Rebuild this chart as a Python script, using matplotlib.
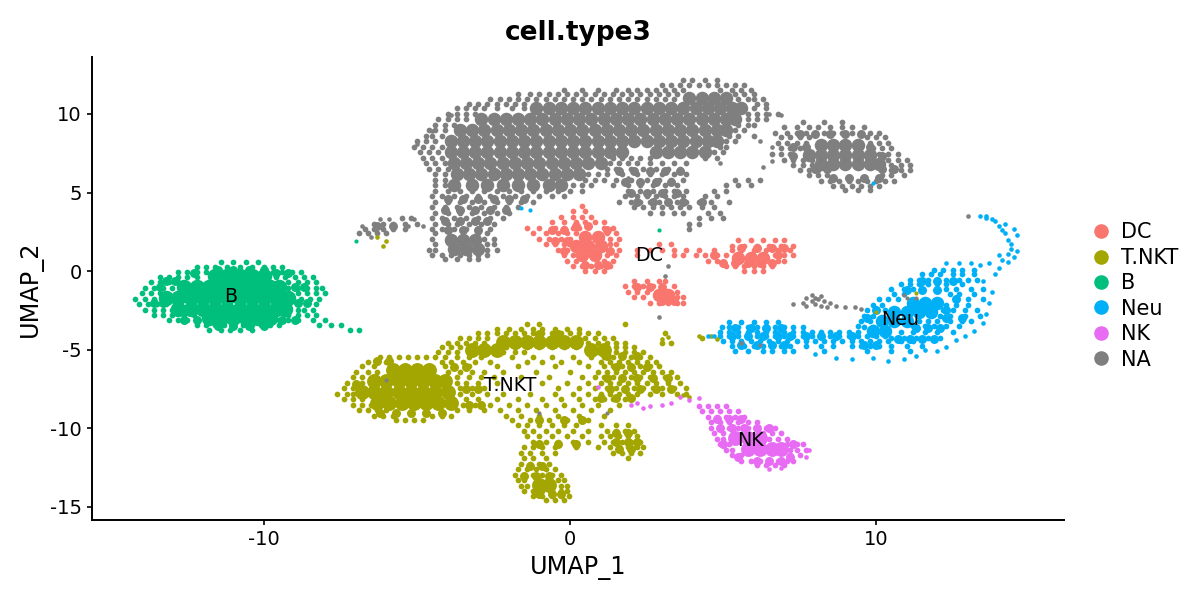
import matplotlib
matplotlib.use("Agg")
import matplotlib.pyplot as plt
from matplotlib.lines import Line2D

plt.rcParams["axes.unicode_minus"] = False

# Cell types and their ggplot-style hues
cell_types = ["DC", "T.NKT", "B", "Neu", "NK", "NA"]
hues = ["#F8766D", "#A3A500", "#00BF7D", "#00B0F6", "#E76BF3", "#7F7F7F"]
label_pos = [(2.6, 1.0), (-1.95, -7.3), (-11.1, -1.6), (10.8, -3.1), (5.9, -10.75)]
x_ticks = [-10, 0, 10]
y_ticks = [-15, -10, -5, 0, 5, 10]

# Densely populated parts of each cluster: UMAP_2 -> UMAP_1 values
na_core = {
    11.0: [3.9, 4.3, 4.7, 5.1],
    10.4: [-1.1, -0.7, -0.3, 0.1, 0.5, 0.9, 1.3, 1.7, 2.1, 2.5, 2.9, 3.3, 3.7, 4.1, 4.5, 4.9, 5.3, 5.6],
    9.7: [-2.9, -2.5, -2.1, -1.7, -1.3, -0.9, -0.5, -0.1, 0.3, 0.7, 1.1, 1.5, 1.9, 2.3, 2.7, 3.1, 3.5, 3.9, 4.3, 4.7, 5.1, 5.4],
    9.0: [-3.6, -3.2, -2.8, -2.4, -2.0, -1.6, -1.2, -0.8, -0.4, 0.0, 0.4, 0.8, 1.2, 1.6, 2.0, 2.4, 2.8, 3.2, 3.6, 4.0, 4.4, 4.8, 5.1],
    8.3: [-3.9, -3.5, -3.1, -2.7, -2.3, -1.9, -1.5, -1.1, -0.7, -0.3, 0.1, 0.5, 0.9, 1.3, 1.7, 2.1, 2.5, 2.9, 3.3, 3.7, 4.1, 4.5, 4.8],
    7.6: [-3.9, -3.5, -3.1, -2.7, -2.3, -1.9, -1.5, -1.1, -0.7, -0.3, 0.1, 0.5, 0.9, 1.3, 1.7, 2.8, 3.2, 3.6, 4.0, 4.4],
    6.9: [-3.8, -3.4, -3.0, -2.6, -2.2, -1.8, -1.4, -1.0, -0.6, -0.2, 0.2, 0.6, 1.0],
    6.2: [-3.7, -3.3, -2.9, -2.5, -2.1, -1.7, -1.3, -0.9, -0.5, -0.1, 0.3],
    5.5: [-3.8, -3.2, -2.7, -2.2, -1.7, -1.2, -0.7, -0.3],
}
na_far_core = {
    8.0: [8.2, 8.6, 9.0, 9.4],
    7.4: [7.8, 8.2, 8.6, 9.0, 9.4, 9.8],
    6.8: [8.2, 8.6, 9.0, 9.4, 9.8, 10.1],
    2.0: [-3.9, -3.5, -3.1],
    1.4: [-3.8, -3.4, -3.0],
}
dc_core = {
    2.2: [0.5, 0.9],
    1.6: [0.2, 0.6, 1.0],
    1.0: [0.4, 0.8],
    0.85: [5.5, 5.9, 6.3],
    -1.5: [2.9, 3.2],
}
tnkt_core = {
    -6.3: [-5.8, -5.4, -5.0, -4.6],
    -7.0: [-6.4, -6.0, -5.6, -5.2, -4.8, -4.4, -4.1],
    -7.7: [-6.8, -6.4, -6.0, -5.6, -5.2, -4.8, -4.4, -4.0],
    -8.4: [-6.3, -5.9, -5.5, -5.1, -4.7, -4.3, -3.9],
    -4.5: [-2.2, -1.8, -1.4, -1.0, -0.6, -0.2, 0.2],
    -5.0: [-3.2, -2.8, -2.4, 0.7, 1.1],
    -13.6: [-1.0, -0.7],
}
b_core = {
    -0.3: [-11.6, -11.2, -10.8, -10.4, -10.0],
    -1.0: [-12.6, -12.2, -11.8, -11.4, -11.0, -10.6, -10.2, -9.8, -9.5],
    -1.7: [-13.2, -12.8, -12.4, -12.0, -11.6, -11.2, -10.8, -10.4, -10.0, -9.6, -9.2],
    -2.4: [-12.8, -12.4, -12.0, -11.6, -11.2, -10.8, -10.4, -10.0, -9.6, -9.3],
    -3.0: [-11.8, -11.4, -11.0, -10.6, -10.2, -9.8],
}
neu_core = {
    -2.0: [11.2, 11.6, 12.0],
    -2.6: [10.6, 11.0, 11.4, 11.8],
    -3.2: [10.2, 10.6, 11.0],
    -3.8: [9.9, 10.3],
}
nk_core = {
    -10.6: [5.4, 5.8, 6.2],
    -11.3: [5.8, 6.2, 6.6, 6.9],
}

# Moderately crowded patches around the dense parts: UMAP_2 -> UMAP_1 values
na_mid = {
    4.6: [-4.0, -3.5, -3.0, -2.5, -2.0, -1.5],
    3.9: [-4.1, -3.6, -3.1, -2.6, -2.1],
    3.2: [-4.1, -3.6, -3.1, -2.7],
    2.6: [-4.0, -3.5, -3.0],
    2.9: [-6.3, -5.8],
    8.7: [7.5, 8.0, 8.5, 9.0, 9.5],
    7.9: [7.3, 7.7, 9.8],
    7.3: [7.3, 10.2],
    6.5: [8.0, 8.4, 10.2, 10.6],
    5.9: [8.6, 9.1, 9.6, 10.1],
    6.4: [1.6, 2.1, 2.6, 3.1, 3.6],
    5.7: [1.8, 2.3, 2.8, 3.3],
    5.0: [2.0, 2.5, 3.0, 3.5],
    4.4: [2.2, 2.7, 3.2, 3.7, 4.3],
}
dc_mid = {
    2.9: [0.2, 0.6],
    2.6: [-0.6, -0.2, 1.2],
    1.9: [-0.5, -0.1],
    1.3: [-0.2, 1.3],
    0.4: [0.5, 0.9, 1.2],
    1.5: [5.6, 6.1, 6.6, 7.0],
    0.5: [5.0, 5.4, 5.8, 6.2, 6.6],
    1.0: [4.7, 6.8],
    -1.0: [2.2, 2.6, 3.0],
    -1.9: [3.0, 3.4],
}
tnkt_mid = {
    -6.1: [1.5, 2.0, 2.5, -3.8, -3.4],
    -6.8: [1.2, 1.7, 2.2, 2.7, 3.2],
    -7.5: [1.3, 1.8, 2.3, 2.8, 3.3, -3.4, -3.0],
    -8.1: [1.0, 1.5, 2.0],
    -5.4: [1.2, 1.7, 2.2],
    -5.7: [-6.3, -5.9],
    -9.0: [-6.2, -5.7, -5.2, -4.7, -4.2],
    -7.2: [-7.0],
    -8.5: [-3.3, -2.9],
    -4.0: [-1.0, -0.4],
    -10.9: [1.5, 1.9, 2.2],
    -11.3: [1.6, 2.0],
    -10.3: [1.5, 1.9],
    -13.0: [-1.5, -1.1, -0.7],
    -14.2: [-1.0, -0.6, -0.3],
    -12.4: [-1.3, -0.9],
    -11.0: [-1.0, -0.4, 0.2],
    -9.5: [-1.0, -0.2, 0.4],
}
b_mid = {
    -0.6: [-13.2, -12.9],
    -2.0: [-13.6, -13.3, -8.9, -8.6],
    -1.0: [-13.4, -9.0, -8.7],
    -0.1: [-12.3, -9.6, -9.2],
    -3.1: [-12.6, -12.2, -9.4, -9.0],
    0.1: [-11.5, -11.0, -10.5, -10.0],
    -3.5: [-11.5, -11.0, -10.5, -10.0],
}
neu_mid = {
    -4.1: [5.3, 5.8, 6.3, 6.8, 7.2, 7.7, 8.2, 8.7, 9.2],
    -3.6: [5.4, 5.9, 6.4, 6.9, 11.3, 11.7, 12.1],
    -4.7: [5.6, 6.1, 6.6, 7.0, 9.6, 10.0],
    -1.2: [11.0, 11.5, 12.0],
    -0.6: [11.5, 12.0, 12.5],
    -1.8: [12.6],
    -2.5: [10.0, 12.3],
    -3.0: [12.3, 12.8, 9.7],
    -4.3: [10.7, 11.1, 11.5, 11.9],
}
nk_mid = {
    -9.4: [4.8, 5.2, 5.6],
    -10.0: [4.9, 5.3, 5.7, 6.1, 6.5],
    -11.0: [5.0, 7.3],
    -11.8: [5.5, 7.2],
    -12.1: [6.1, 6.5, 6.9],
}

# Stippled outer bands and sparser parts of each cluster: UMAP_2 -> UMAP_1 values
na_fill = {
    12.15: [3.7, 4.0, 4.4, 4.8],
    11.85: [3.0, 3.3, 3.6, 3.9, 4.2, 4.5, 4.8, 5.1, 5.4, 5.7],
    11.55: [-0.2, 0.4, 0.9, 1.5, 1.9, 2.2, 2.5, 2.8, 3.1, 3.4, 3.7, 4.9, 5.3, 5.6, 5.9],
    11.25: [-1.7, -1.3, -1.0, -0.7, -0.4, -0.1, 0.2, 0.5, 0.8, 1.1, 1.4, 1.7, 2.0, 2.3, 2.6, 2.9, 3.2, 3.5, 5.4, 5.7, 6.0],
    10.95: [-2.6, -2.3, -2.0, -1.7, -1.4, -1.1, -0.8, -0.5, -0.2, 0.1, 0.4, 0.7, 1.0, 1.3, 1.6, 1.9, 2.2, 2.5, 2.8, 3.1, 3.4, 5.5, 5.8, 6.0, 6.3],
    10.65: [-3.3, -3.0, -2.7, -2.4, -2.1, -1.8, -1.5, 6.1, 6.4],
    10.35: [-3.7, -3.4, -3.1, -2.8, -2.4, -1.9, -1.5, 6.0, 6.4],
    10.0: [-4.0, -3.7, -3.4, -3.1, 5.8, 6.1, 6.4, 6.8],
    9.65: [-4.3, -4.0, -3.7, -3.4, 5.8, 6.1, 6.4],
    9.3: [-4.4, -4.1, -3.8, 5.5, 5.8, 6.0],
    8.95: [-4.6, -4.4, -4.1, 5.4, 5.7],
    8.6: [-4.7, -4.5, -4.2, 5.2, 5.5, 6.0],
    8.25: [-5.0, -4.7, -4.4, 5.1, 5.4],
    7.9: [-5.1, -4.8, -4.5, -4.2, 4.9, 5.1],
    7.55: [-4.9, -4.6, -4.3, 4.7, 5.0],
    7.2: [-4.8, -4.5, -4.2, 1.4, 1.7, 2.0, 2.3, 2.6, 4.4, 4.8],
    6.85: [-4.7, -4.4, -4.1, 1.3, 1.6, 1.9, 2.2, 2.6, 3.0, 3.4, 3.8],
    6.5: [-4.6, -4.3, -4.0, 1.2, 1.5, 2.0, 2.4, 2.8, 3.2, 3.6],
    6.15: [-4.4, -4.1, 0.6, 0.9, 1.2, 1.7, 2.2, 2.6, 3.0, 3.4, 3.8],
    5.8: [-4.4, -4.1, 0.5, 0.8, 1.1, 1.5, 2.0, 2.5, 2.9, 3.3, 3.7, 5.4, 5.8, 6.2],
    5.45: [-4.4, -4.1, 0.1, 0.4, 0.7, 1.4, 1.9, 2.3, 2.7, 3.1, 3.5, 5.1, 5.5, 5.9],
    5.1: [-4.4, -4.0, -3.6, -3.2, -2.8, -2.4, -2.0, -1.6, -1.2, -0.8, -0.4, 0.0, 0.4, 1.9, 2.3, 2.7, 3.1, 3.4, 3.8, 4.7, 5.1],
    4.75: [-4.5, -4.2, -3.8, -3.4, -3.0, -2.6, -2.2, -1.8, -1.4, -1.0, -0.6, -0.2, 1.8, 2.2, 2.5, 2.8, 3.1, 3.4, 3.7, 4.4, 4.8],
    4.4: [-4.4, -4.0, -3.6, -3.2, -2.8, -2.4, -2.0, -1.6, -1.2, 1.6, 2.0, 2.3, 2.6, 2.9, 3.2, 3.5, 3.8, 4.2, 4.6, 5.2],
    4.05: [-4.5, -4.1, -3.7, -3.3, -2.9, -2.5, -2.1, -1.7, 2.1, 2.4, 2.7, 3.0, 3.3, 3.6, 3.9, 4.3, 4.7],
    3.7: [-4.4, -4.0, -3.6, -3.2, -2.8, -2.4, -2.0, 2.6, 3.0, 3.4, 3.7, 4.5, 4.9],
    3.35: [-4.5, -4.2, -3.8, -3.4, -3.0, -2.6, -2.2, -5.5, -5.2, 4.2, 4.6, 5.0],
    3.0: [-4.4, -4.0, -3.7, -3.3, -2.9, -2.5, -6.4, -6.1, -5.8, -5.4, -5.0, 3.9, 4.2],
    2.7: [-4.5, -4.2, -3.8, -3.4, -3.0, -2.6, -6.7, -6.4, -6.1, -5.8, -5.4, 3.9],
    2.4: [-4.4, -3.0, -2.7, -6.9, -6.6, -6.3, -6.0],
    2.05: [-4.5, -2.8, -2.5],
    1.7: [-4.4, -2.7, -2.5],
    1.35: [-4.6, -4.4, -2.7, -2.4],
    1.0: [-4.5, -4.2, -3.9, -3.6, -3.3, -3.0, -2.7],
    0.8: [-4.1, -3.7, -3.3, -3.0],
    # eastern lobe
    9.5: [7.6, 8.3, 8.9],
    9.15: [7.0, 7.4, 7.8, 8.1, 8.5, 8.9, 9.2, 9.6],
    8.8: [6.7, 7.1, 7.4, 7.7, 8.0, 8.3, 8.6, 8.9, 9.2, 9.5, 9.8, 10.1],
    8.5: [6.9, 7.2, 7.5, 7.8, 9.7, 10.0, 10.3],
    8.15: [6.8, 7.1, 7.4, 7.7, 9.8, 10.1, 10.4],
    7.85: [6.9, 7.2, 7.5, 9.9, 10.2, 10.5],
    7.45: [6.6, 6.9, 7.2, 10.1, 10.4, 10.7],
    7.1: [7.0, 7.3, 7.6, 7.9, 10.4, 10.7, 11.0],
    6.75: [7.3, 7.6, 7.9, 10.5, 10.8, 11.1],
    6.45: [7.5, 7.8, 8.1, 8.4, 10.2, 10.5, 10.8, 11.1],
    6.1: [7.8, 8.1, 8.4, 10.2, 10.5, 10.9],
    5.75: [8.2, 8.5, 8.8, 9.1, 9.4, 9.7, 10.0, 10.3, 10.6],
    5.4: [8.6, 8.9, 9.2, 9.5, 9.8, 10.1],
    5.15: [9.0, 9.4, 9.8],
}
dc_fill = {
    4.15: [0.4],
    3.8: [0.1, 0.5],
    3.45: [-0.3, 0.1, 0.4, 0.7],
    3.1: [-0.6, -0.2, 0.2, 0.5, 0.8, 1.1],
    2.75: [-1.4, -1.0, -0.5, -0.2, 0.1, 0.3, 1.1, 1.4],
    2.4: [-1.2, -0.8, -0.4, -0.1, 0.2, 1.2, 1.5],
    2.05: [-1.0, -0.7, -0.3, 0.0, 1.3, 1.6],
    1.7: [-0.8, -0.5, -0.2, -0.05, 1.3, 1.5, 2.9, 3.3],
    1.35: [-0.4, -0.1, 1.3, 1.6, 2.2, 2.6, 3.0, 3.4, 3.8, 4.2, 4.7, 5.3, 5.6, 6.0, 6.4, 6.8, 7.2],
    1.0: [-0.2, 0.1, 1.2, 1.5, 2.2, 3.4, 3.7, 4.1, 4.4, 4.8, 5.1, 6.7, 7.0, 7.3],
    0.65: [-0.1, 0.2, 1.1, 1.4, 4.5, 4.8, 6.8, 7.0],
    0.3: [0.1, 0.4, 0.7, 1.0, 1.3, 5.1, 5.4, 5.7, 6.0, 6.3, 6.6],
    0.0: [0.5, 0.8, 1.1, 5.7, 6.0, 6.3],
    -0.6: [2.1, 2.5, 2.9, 3.1],
    -0.95: [1.8, 2.1, 2.4, 2.7, 3.0, 3.4],
    -1.3: [1.9, 2.2, 2.5, 3.5],
    -1.65: [2.1, 2.4, 3.5, 3.7],
    -2.0: [2.6, 2.9, 3.2, 3.5, 3.7],
    1.95: [5.5, 5.9, 6.3, 6.7, 7.0],
    1.6: [5.3, 5.7, 6.1, 6.5, 6.9, 7.3],
}
tnkt_fill = {
    -3.35: [-1.4, -1.0, 1.8],
    -3.65: [-2.4, -2.0, -1.6, -1.2, -0.9, -0.5, -0.1, 0.3],
    -3.95: [-3.0, -2.7, -2.4, -2.1, -1.8, -1.5, -1.2, -0.9, -0.6, -0.3, 0.0, 0.3, 0.6, 0.9, 3.1],
    -4.25: [-3.6, -3.3, -3.0, -2.7, 0.5, 0.8, 1.1, 1.4, 4.3],
    -4.55: [-4.0, -3.7, -3.4, -3.1, -2.8, 0.6, 0.9, 1.2, 1.5, 1.8, 3.0, 3.3],
    -4.85: [-4.2, -3.9, -3.6, -2.1, -1.8, -1.4, -1.0, -0.6, -0.2, 0.2, 1.5, 1.8, 2.1],
    -5.15: [-4.3, -4.0, -3.7, -3.3, -2.9, -2.5, -2.2, -1.8, -1.5, 0.9, 1.2, 1.5, 1.8, 2.1, 2.4],
    -5.45: [-6.2, -5.9, -5.6, -5.3, -5.0, -4.7, -4.4, -4.1, -3.7, -3.3, -2.9, -1.9, -1.2, -0.6, 0.1, 0.7, 1.1, 1.4, 1.7, 2.0, 2.3, 2.6],
    -5.75: [-6.6, -6.3, -6.0, -4.2, -3.9, -3.5, -3.1, -2.6, -1.4, -0.9, -0.3, 0.3, 1.0, 1.3, 1.6, 1.9, 2.2, 2.5, 2.8],
    -6.05: [-6.8, -6.4, -4.1, -3.8, -3.3, -2.4, -1.7, -0.5, 0.6, 1.1, 1.4, 1.7, 2.0, 2.3, 2.6, 2.9],
    -6.4: [-7.0, -6.6, -6.3, -4.0, -3.6, -3.2, -2.8, -2.2, -1.1, 0.0, 0.9, 1.2, 1.5, 1.8, 2.1, 2.4, 2.7, 3.0, 3.3],
    -6.75: [-7.1, -6.8, -3.7, -3.3, -2.9, -2.5, -1.6, -0.7, 0.4, 0.8, 1.1, 1.4, 1.7, 2.0, 2.3, 2.6, 3.1, 3.5],
    -7.1: [-7.3, -7.0, -6.8, -3.7, -3.4, -3.0, -2.4, -0.9, -0.1, 0.6, 1.0, 1.3, 1.6, 1.9, 2.2, 2.5, 2.8, 3.2, 3.6],
    -7.45: [-7.4, -7.1, -3.6, -3.2, -2.8, -0.4, 0.3, 0.8, 1.2, 1.5, 1.8, 2.1, 2.4, 2.7, 3.0, 3.4, 3.8],
    -7.8: [-7.6, -7.3, -7.1, -3.6, -3.2, -2.7, -2.2, -1.3, -0.5, 0.1, 0.6, 1.0, 1.3, 1.6, 1.9, 2.2, 2.6, 3.0, 3.5, 3.8],
    -8.15: [-7.4, -7.1, -6.8, -3.4, -3.0, -2.4, -1.7, -0.9, -0.3, 0.3, 0.8, 1.1, 1.4, 1.8, 2.0],
    -8.5: [-7.1, -6.8, -6.5, -3.5, -3.1, -2.6, -2.0, -1.4, -0.8, -0.2, 0.4, 0.9, 1.6],
    -8.85: [-6.9, -6.6, -6.3, -6.0, -3.7, -3.3, -2.8, -2.3, -1.7, -1.1, -0.5, 0.1, 0.7, 1.3],
    -9.2: [-6.4, -6.1, -5.8, -4.5, -4.2, -3.9, -2.1, -1.6, -1.0, -0.4, 0.3, 1.1],
    -9.45: [-5.7, -5.4, -5.1, -4.8, -1.9, -1.3, -0.7, -0.1, 0.6],
    -9.8: [-1.7, -1.4, -1.0, -0.6, -0.2, 0.2, 1.0, 1.5, 1.9],
    -10.15: [-1.5, -1.2, -0.8, -0.4, 0.1, 0.6, 1.2, 1.5, 1.8, 2.1],
    -10.5: [-1.4, -1.0, -0.6, -0.1, 0.4, 1.0, 1.3, 1.6, 1.9, 2.2],
    -10.85: [-1.2, -0.8, -0.4, 0.1, 0.6, 1.1, 1.4, 1.7, 2.0, 2.3],
    -11.2: [-1.5, -1.2, -0.9, -0.5, 0.2, 0.9, 1.3, 1.6, 1.9, 2.2, 2.4],
    -11.55: [-1.6, -1.3, -0.9, -0.5, 1.4, 1.7, 2.0, 2.3],
    -11.9: [-1.5, -1.2, -0.8, 1.9],
    -12.25: [-1.6, -1.3, -1.0, -0.7],
    -12.6: [-1.7, -1.4, -1.1, -0.8, -0.5],
    -12.95: [-1.8, -1.5, -1.2, -0.9, -0.6, -0.3],
    -13.3: [-1.7, -1.5, -0.4, -0.2],
    -13.65: [-1.6, -1.4, -0.3, -0.1],
    -14.0: [-1.5, -1.2, -0.9, -0.6, -0.3, -0.1],
    -14.3: [-1.2, -0.9, -0.6, -0.3, -0.05],
    -14.55: [-0.8, -0.5, -0.2],
}
b_fill = {
    0.55: [-11.4, -11.0, -10.6, -10.2],
    0.25: [-12.2, -11.9, -11.6, -11.2, -10.8, -10.4, -10.0, -9.7, -9.4],
    -0.05: [-12.8, -12.5, -12.2, -11.9, -9.7, -9.4, -9.1, -8.8],
    -0.35: [-13.4, -13.1, -12.8, -12.5, -12.2, -9.6, -9.3, -9.0, -8.7, -8.4],
    -0.7: [-13.7, -13.4, -13.1, -12.8, -9.2, -8.9, -8.6, -8.3],
    -1.05: [-13.9, -13.6, -13.3, -13.0, -9.2, -8.9, -8.6, -8.3, -8.1],
    -1.4: [-14.0, -13.7, -13.4, -8.9, -8.6, -8.3, -8.0],
    -1.75: [-14.2, -13.9, -13.6, -8.8, -8.5, -8.2],
    -2.1: [-14.1, -13.8, -13.5, -13.2, -8.9, -8.6, -8.3],
    -2.45: [-13.9, -13.6, -13.3, -13.0, -8.9, -8.7, -8.4],
    -2.8: [-13.6, -13.3, -13.0, -12.6, -12.3, -9.2, -8.9, -8.6, -8.3],
    -3.1: [-13.1, -12.8, -12.5, -12.2, -9.5, -9.2, -8.9, -8.4, -8.0],
    -3.45: [-12.2, -11.9, -11.6, -11.3, -11.0, -10.7, -10.4, -10.1, -9.8, -9.5, -8.2, -7.8, -7.5],
    -3.75: [-11.8, -11.4, -11.1, -10.8, -10.4, -7.2, -6.9],
}
neu_fill = {
    -3.25: [5.2, 5.6, 6.0, 6.4, 6.8],
    -3.55: [4.95, 5.2, 5.5, 5.8, 6.1, 6.4, 6.7, 7.0, 7.3, 7.6, 9.6, 9.9],
    -3.85: [4.9, 5.2, 5.5, 5.8, 6.1, 6.4, 6.7, 7.0, 7.3, 7.6, 7.9, 8.2, 8.5, 8.8, 9.1, 9.4],
    -4.15: [4.9, 5.2, 5.5, 5.8, 6.1, 6.4, 6.7, 7.0, 7.3, 7.6, 7.9, 8.2, 8.5, 8.8, 9.1, 9.4, 9.7, 10.0, 10.3],
    -4.45: [5.0, 5.3, 5.6, 5.9, 6.2, 6.5, 6.8, 7.1, 7.4, 7.7, 8.0, 8.3, 8.6, 8.9, 9.2, 9.5, 9.8, 10.1, 10.4, 10.8, 11.2],
    -4.75: [5.3, 5.7, 6.0, 6.3, 6.6, 6.9, 7.2, 7.7, 8.2, 8.6, 9.2, 9.5, 9.8, 10.1, 10.5, 11.0, 11.5],
    -5.05: [5.4, 5.8, 6.3, 6.6, 7.0, 7.3, 8.3, 9.7, 10.5, 11.1],
    -1.45: [10.6, 10.9, 12.4, 12.7, 13.2],
    -1.15: [10.5, 10.9, 11.2, 12.3, 12.6, 13.1, 13.5],
    -0.85: [10.8, 11.1, 11.4, 11.7, 12.0, 12.3, 12.8],
    -0.55: [11.1, 11.4, 11.7, 12.0, 12.3, 12.7, 13.0, 13.3],
    -0.2: [11.5, 11.8, 12.1, 12.5, 12.8, 13.2],
    0.1: [11.9, 12.2, 12.5, 12.8, 13.2],
    -1.8: [10.1, 10.4, 10.7, 12.6, 13.0, 13.5],
    -2.15: [9.9, 10.2, 12.3, 12.6, 13.0],
    -2.5: [9.7, 10.0, 10.3, 12.2, 12.5, 12.9, 13.3],
    -2.85: [9.6, 9.9, 12.1, 12.4, 12.9, 13.4],
    -3.2: [9.5, 9.8, 11.4, 11.7, 12.0, 12.4, 12.8, 13.1],
    -3.5: [9.4, 11.2, 11.6, 11.9, 12.3, 12.7],
    -3.9: [10.8, 11.2, 11.6, 12.0, 12.5],
    -4.25: [10.5, 10.9, 11.3, 11.7, 12.1],
}
nk_fill = {
    -8.55: [4.2, 4.5, 4.8, 5.1],
    -8.9: [4.3, 4.6, 4.9, 5.2, 5.5],
    -9.25: [4.5, 4.8, 5.1, 5.4, 5.7],
    -9.6: [4.6, 4.9, 5.2, 5.5, 5.8, 6.1],
    -9.95: [4.6, 4.9, 5.2, 5.5, 5.8, 6.1, 6.4, 6.7],
    -10.3: [4.7, 5.0, 6.3, 6.6, 6.9],
    -10.65: [4.8, 5.0, 6.5, 6.8, 7.1],
    -11.0: [4.9, 5.2, 7.1, 7.4, 7.6],
    -11.35: [5.1, 5.3, 7.2, 7.4, 7.7],
    -11.7: [5.3, 5.6, 7.2, 7.5],
    -12.05: [5.6, 5.9, 6.2, 6.5, 6.8, 7.1, 7.3],
    -12.35: [6.1, 6.4, 6.7, 7.0],
}

# Individually visible cells: (UMAP_1, UMAP_2)
na_dots = [
    (-5.0, 8.1), (-4.5, 8.9), (-3.9, 9.9), (6.5, 10.0), (6.9, 9.9), (6.2, 8.3), (6.6, 7.9),
    (6.6, 7.0), (6.3, 6.6), (4.9, 6.9), (7.7, -1.7), (7.9, -1.5), (8.1, -1.8), (8.0, -2.1), (8.3, -1.9), (8.5, -2.0), (7.6, -2.0),
    (8.7, -2.2), (9.0, -2.3), (9.3, -2.3), (7.3, -2.1), (9.5, -2.4), (7.7, -2.2), (8.2, -1.6), (8.0, -1.7), (8.4, -2.3),
    (7.9, -1.9), (8.2, -2.2), (5.6, -4.6), (3.2, 0.3), (3.1, -0.3), (13.0, 3.5), (2.9, -2.9), (1.9, 5.9), (-5.3, 2.9), (-5.1, 3.3),
    (-6.8, 2.9), (-6.5, 2.2), (-6.2, 3.3), (-5.9, 3.3), (-5.0, 3.0), (-4.8, 2.9),
]
tnkt_dots = [
    (4.2, -4.1), (4.6, -4.1), (4.8, -4.3), (3.0, -4.3), (3.2, -4.2), (-6.1, 1.6), (-6.0, 1.9), (-6.3, 2.2), (3.7, -7.9), (3.9, -8.0),
]
neu_dots = [
    (14.1, 0.7), (14.5, 0.9), (14.6, 1.3), (14.3, 1.1), (14.0, 1.0), (14.4, 1.7), (14.6, 2.3), (14.3, 2.0), (14.5, 2.7), (14.1, 2.6),
    (14.2, 3.0), (13.9, 3.2), (13.6, 3.4), (13.4, 3.5), (13.6, 3.5), (13.8, 3.3), (14.0, 2.9), (14.2, 2.4), (14.4, 1.4), (14.3, 0.6),
    (13.9, -0.2), (14.0, 0.2), (13.5, -0.6), (13.7, 0.5), (13.4, 0.4), (13.1, 0.5), (12.7, 0.5), (13.8, -1.3), (13.7, -2.0), (13.6, -2.7),
    (13.5, -3.3), (13.2, -3.8), (12.9, -4.1), (12.6, -4.4), (12.3, -4.8), (12.0, -5.1), (11.6, -5.0), (11.3, -5.4), (10.9, -5.6), (10.4, -5.7),
    (9.9, -5.5), (9.2, -5.6), (8.7, -5.5), (8.0, -5.3), (4.7, -4.1), (4.5, -4.1), (12.3, 0.5),
]
nk_dots = [
    (3.6, -8.0), (3.9, -8.2), (4.2, -8.1), (7.8, -11.4), (7.7, -11.8), (2.2, -8.4), (2.4, -8.7), (2.0, -8.5), (2.6, -8.6),
    (3.0, -8.5), (3.3, -8.4), (0.9, -7.4), (6.9, -12.5), (6.5, -12.6),
]
# A few cells plotted inside another cluster's territory
stray_dots = {
    "B": [(-7.0, 1.9), (2.9, 2.6)],
    "Neu": [(-1.6, 4.0), (-1.3, 3.9), (9.9, 5.6)],
    "NA": [(-6.0, -6.9), (-1.0, -9.0), (1.2, -9.0), (11.0, -1.7), (10.9, -1.5), (11.3, -1.7), (6.2, -4.7)],
    "T.NKT": [(10.0, -2.6), (11.3, -1.4)],
}


def expand(rows):
    xs, ys = [], []
    for y, row in rows.items():
        xs.extend(row)
        ys.extend([y] * len(row))
    return xs, ys


fig = plt.figure(figsize=(12, 6), dpi=100)
ax = fig.add_axes([92 / 1200, 1 - 520 / 600, (1064 - 92) / 1200, (520 - 57) / 600])
colour = dict(zip(cell_types, hues))

for name, rows, area in [("NA", na_core, 95), ("NA", na_far_core, 95), ("DC", dc_core, 95), ("T.NKT", tnkt_core, 115),
                         ("B", b_core, 125), ("Neu", neu_core, 95), ("NK", nk_core, 115)]:
    xs, ys = expand(rows)
    ax.scatter(xs, ys, s=area, c=colour[name], linewidths=0, zorder=2)

for name, rows in [("NA", na_mid), ("DC", dc_mid), ("T.NKT", tnkt_mid), ("B", b_mid),
                   ("Neu", neu_mid), ("NK", nk_mid)]:
    xs, ys = expand(rows)
    ax.scatter(xs, ys, s=42, c=colour[name], linewidths=0, zorder=2.5)

for name, rows in [("NA", na_fill), ("DC", dc_fill), ("T.NKT", tnkt_fill), ("B", b_fill),
                   ("Neu", neu_fill), ("NK", nk_fill)]:
    xs, ys = expand(rows)
    ax.scatter(xs, ys, s=17, c=colour[name], linewidths=0, zorder=3)

for name, pts in [("NA", na_dots), ("T.NKT", tnkt_dots), ("Neu", neu_dots), ("NK", nk_dots)]:
    ax.scatter([p[0] for p in pts], [p[1] for p in pts], s=11, c=colour[name], linewidths=0, zorder=3)

for name, pts in stray_dots.items():
    ax.scatter([p[0] for p in pts], [p[1] for p in pts], s=9, c=colour[name], linewidths=0, zorder=4)

for name, (lx, ly) in zip(cell_types, label_pos):
    ax.text(lx, ly, name, ha="center", va="center", fontsize=13.7, color="black", zorder=5)

ax.set_xlim(-15.62, 16.14)
ax.set_ylim(-15.83, 13.62)
ax.set_xticks(x_ticks)
ax.set_yticks(y_ticks)
ax.tick_params(labelsize=14, length=3.5, width=1.2, pad=4)
ax.set_xlabel("UMAP_1", fontsize=17.3, labelpad=4.5)
ax.set_ylabel("UMAP_2", fontsize=17.3, labelpad=5)
ax.set_title("cell.type3", fontsize=19, fontweight="bold", pad=12.5)
for side in ("top", "right"):
    ax.spines[side].set_visible(False)
for side in ("left", "bottom"):
    ax.spines[side].set_linewidth(1.4)

handles = [Line2D([], [], marker="o", linestyle="", markersize=10.5, markerfacecolor=c, markeredgewidth=0)
           for c in hues]
fig.legend(handles, cell_types, loc="center left", bbox_to_anchor=(1061 / 1200, 1 - 296 / 600), frameon=False,
           fontsize=15, labelspacing=0.26, handletextpad=0.0)

fig.savefig("out.png", dpi=100)
